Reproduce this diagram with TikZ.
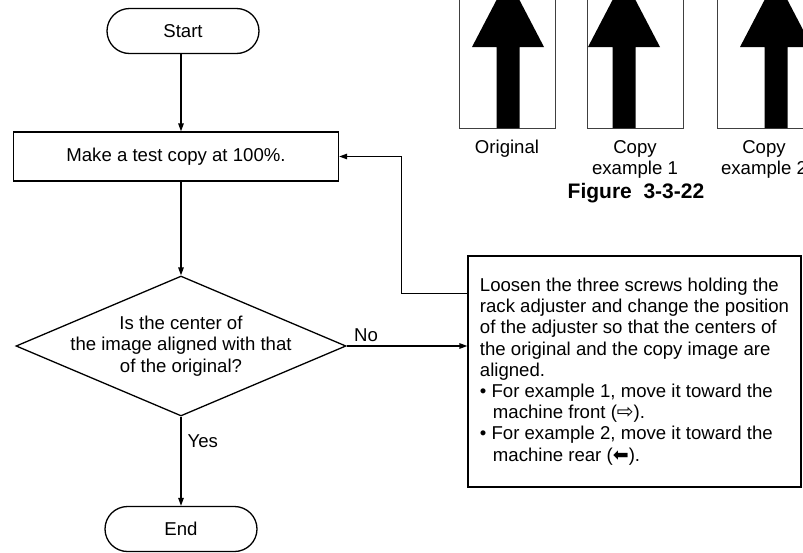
\documentclass[tikz,border=0pt]{standalone}
\usepackage{fontspec}
\setmainfont{Liberation Sans}
\newfontfamily\symfont{DejaVu Sans}
\usetikzlibrary{positioning,arrows.meta,calc,shapes.geometric,shapes.misc}

\tikzset{
  flow/.style={line width=1.3pt,-{Triangle[length=8pt,width=5.5pt]}},
  term/.style={rounded rectangle,draw,line width=1.3pt,minimum width=152pt,minimum height=45pt,inner sep=0pt},
  proc/.style={rectangle,draw,line width=1.3pt,minimum width=325pt,minimum height=49pt,inner sep=0pt},
  decision/.style={diamond,draw,line width=1.3pt,minimum width=330pt,minimum height=140pt,inner sep=0pt},
  note/.style={rectangle,draw,line width=1.3pt,inner sep=0pt,minimum width=333pt,minimum height=231pt,align=left},
  caption/.style={inner sep=0pt,align=center,anchor=north},
}
\newcommand{\frontarrow}{{\symfont\fontsize{20}{20}\selectfont ⇨}}
\newcommand{\reararrow}{{\symfont\fontsize{19}{19}\selectfont ⬅}}

\begin{document}
\begin{tikzpicture}[x=1pt,y=-1pt,font=\fontsize{18.6}{21.2}\selectfont]
  \clip (0,0) rectangle (803,552);

  % flow chart
  \node[term] (start) at (183,31) {Start};
  \node[proc] (copy) at (176,156.5) {Make a test copy at 100\%.};
  \node[decision,label={[align=center,inner sep=0pt]center:Is the center of\\the image aligned with that\\of the original?}] (check) at (181,346) {};
  \node[term] (end) at (181,529) {End};
  \node[note] (adjust) at (634.5,371.5) {Loosen the three screws holding the\\
    rack adjuster and change the position\\
    of the adjuster so that the centers of\\
    the original and the copy image are\\
    aligned.\\
    \textbullet\ For example 1, move it toward the\\
    \hspace*{13pt}machine front (\frontarrow).\\
    \textbullet\ For example 2, move it toward the\\
    \hspace*{13pt}machine rear (\reararrow).};

  \draw[flow] (check.north |- start.south) -- (check.north |- copy.north);
  \draw[flow] (check.north |- copy.south) -- (check.north);
  \draw[flow] (check.south) -- node[pos=0.27,right,inner sep=6pt] {Yes} (end.north);
  \draw[flow] (check.east) -- node[pos=0.16,above,inner sep=4pt] {No} (check.east -| adjust.west);
  \draw[flow] ($(adjust.north west)+(0,38)$) -- ++(-66,0) |- (copy.east);

  % copy examples
  \foreach \rx/\ax in {459/508, 587/624, 717/776} {
    \draw[line width=0.9pt,black!75] (\rx,-5) rectangle ++(96,133);
    \fill (\ax-36,47) -- (\ax,-22) -- (\ax+36,47) -- (\ax+11.5,47)
      -- (\ax+11.5,128) -- (\ax-11.5,128) -- (\ax-11.5,47) -- cycle;
  }
  \node[caption] (orig) at (507,140) {Original};
  \node[caption] (copy1) at (635,140) {Copy\\example 1};
  \node[caption] (copy2) at (764,140) {Copy\\example 2};
  \node[font=\bfseries\fontsize{21}{21}\selectfont] (fig) at (636,193) {Figure\ \ 3-3-22};
\end{tikzpicture}
\end{document}
